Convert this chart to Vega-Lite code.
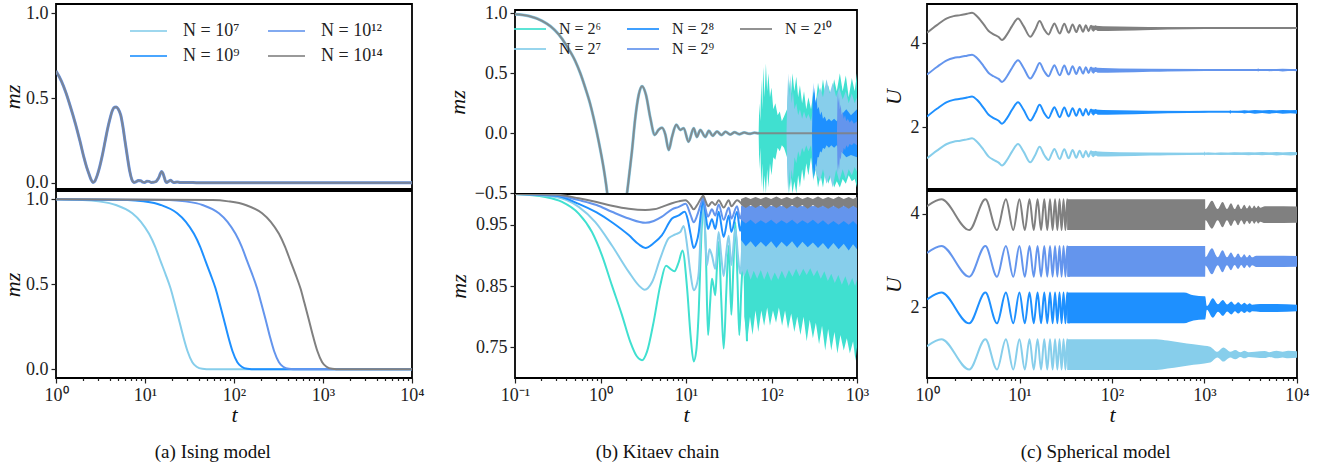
{
"$schema":"https://vega.github.io/schema/vega-lite/v6.json",
"background":"white",
"padding":{"left":0,"top":3,"right":5,"bottom":3},
"spacing":19,
"config":{
 "view":{"stroke":"black","strokeWidth":1.8},
 "axis":{"labelFont":"Liberation Serif","labelFontSize":18,"labelColor":"#222","titleFont":"Liberation Serif","titleFontSize":22,"titleFontStyle":"italic","titleFontWeight":"normal","titleColor":"#111","tickColor":"#222","tickWidth":1.2,"labelPadding":3,"grid":false,"domain":false,"labelFlush":false,"labelOverlap":false},
 "legend":{"labelFont":"Liberation Serif","labelColor":"#222"},
 "title":{"font":"Liberation Serif","fontWeight":"normal","fontSize":19,"color":"#111"}
},
"datasets":{
 "aTop":[
  {"t":1,"y":0.659,"s":"14"},{"t":1.15,"y":0.6,"s":"14"},{"t":1.29,"y":0.533,"s":"14"},{"t":1.47,"y":0.44,"s":"14"},{"t":1.66,"y":0.345,"s":"14"},{"t":1.86,"y":0.245,"s":"14"},{"t":2.06,"y":0.149,"s":"14"},{"t":2.2,"y":0.095,"s":"14"},{"t":2.35,"y":0.051,"s":"14"},{"t":2.48,"y":0.018,"s":"14"},{"t":2.6,"y":0.002,"s":"14"},{"t":2.72,"y":0.008,"s":"14"},{"t":2.91,"y":0.045,"s":"14"},{"t":3.1,"y":0.095,"s":"14"},{"t":3.31,"y":0.16,"s":"14"},{"t":3.55,"y":0.24,"s":"14"},{"t":3.77,"y":0.31,"s":"14"},{"t":4.03,"y":0.375,"s":"14"},{"t":4.29,"y":0.425,"s":"14"},{"t":4.55,"y":0.446,"s":"14"},{"t":4.76,"y":0.447,"s":"14"},{"t":5.0,"y":0.435,"s":"14"},{"t":5.33,"y":0.4,"s":"14"},{"t":5.65,"y":0.33,"s":"14"},{"t":5.96,"y":0.246,"s":"14"},{"t":6.35,"y":0.15,"s":"14"},{"t":6.73,"y":0.069,"s":"14"},{"t":7.1,"y":0.02,"s":"14"},{"t":7.52,"y":0.002,"s":"14"},{"t":7.9,"y":0.005,"s":"14"},{"t":8.4,"y":0.013,"s":"14"},{"t":8.94,"y":0.012,"s":"14"},{"t":9.4,"y":0.004,"s":"14"},{"t":9.93,"y":0.002,"s":"14"},{"t":10.5,"y":0.009,"s":"14"},{"t":11.1,"y":0.008,"s":"14"},{"t":11.7,"y":0.002,"s":"14"},{"t":12.3,"y":0.003,"s":"14"},{"t":13.2,"y":0.006,"s":"14"},{"t":13.9,"y":0.02,"s":"14"},{"t":14.4,"y":0.035,"s":"14"},{"t":14.9,"y":0.055,"s":"14"},{"t":15.4,"y":0.066,"s":"14"},{"t":15.9,"y":0.055,"s":"14"},{"t":16.5,"y":0.03,"s":"14"},{"t":17,"y":0.008,"s":"14"},{"t":17.5,"y":0.001,"s":"14"},{"t":18.4,"y":0.008,"s":"14"},{"t":19.4,"y":0.014,"s":"14"},{"t":20.3,"y":0.006,"s":"14"},{"t":21.2,"y":0.001,"s":"14"},{"t":23,"y":0.004,"s":"14"},{"t":25,"y":0.001,"s":"14"},{"t":30,"y":0.002,"s":"14"},{"t":40,"y":0,"s":"14"},{"t":100,"y":0,"s":"14"},{"t":10000,"y":0,"s":"14"}
 ],
 "aBot":[
  {"t":1,"y":1,"s":"7"},{"t":2,"y":0.996,"s":"7"},{"t":3,"y":0.988,"s":"7"},{"t":4.7,"y":0.967,"s":"7"},{"t":7.2,"y":0.918,"s":"7"},{"t":9,"y":0.868,"s":"7"},{"t":11.1,"y":0.797,"s":"7"},{"t":13,"y":0.722,"s":"7"},{"t":15,"y":0.635,"s":"7"},{"t":17,"y":0.56,"s":"7"},{"t":19.4,"y":0.475,"s":"7"},{"t":21.5,"y":0.39,"s":"7"},{"t":24,"y":0.295,"s":"7"},{"t":27,"y":0.19,"s":"7"},{"t":30,"y":0.108,"s":"7"},{"t":34,"y":0.042,"s":"7"},{"t":38,"y":0.015,"s":"7"},{"t":44,"y":0.003,"s":"7"},{"t":55,"y":0,"s":"7"},{"t":10000,"y":0,"s":"7"},
  {"t":1,"y":1,"s":"9"},{"t":6.4,"y":0.996,"s":"9"},{"t":9.6,"y":0.988,"s":"9"},{"t":15,"y":0.967,"s":"9"},{"t":23,"y":0.918,"s":"9"},{"t":28.8,"y":0.868,"s":"9"},{"t":35.5,"y":0.797,"s":"9"},{"t":41.6,"y":0.722,"s":"9"},{"t":48,"y":0.635,"s":"9"},{"t":54.4,"y":0.56,"s":"9"},{"t":62.1,"y":0.475,"s":"9"},{"t":68.8,"y":0.39,"s":"9"},{"t":76.8,"y":0.295,"s":"9"},{"t":86.4,"y":0.19,"s":"9"},{"t":96,"y":0.108,"s":"9"},{"t":109,"y":0.042,"s":"9"},{"t":122,"y":0.015,"s":"9"},{"t":141,"y":0.003,"s":"9"},{"t":176,"y":0,"s":"9"},{"t":10000,"y":0,"s":"9"},
  {"t":1,"y":1,"s":"12"},{"t":18.8,"y":0.996,"s":"12"},{"t":28.2,"y":0.988,"s":"12"},{"t":44.2,"y":0.967,"s":"12"},{"t":67.7,"y":0.918,"s":"12"},{"t":84.6,"y":0.868,"s":"12"},{"t":104,"y":0.797,"s":"12"},{"t":122,"y":0.722,"s":"12"},{"t":141,"y":0.635,"s":"12"},{"t":160,"y":0.56,"s":"12"},{"t":182,"y":0.475,"s":"12"},{"t":202,"y":0.39,"s":"12"},{"t":226,"y":0.295,"s":"12"},{"t":254,"y":0.19,"s":"12"},{"t":282,"y":0.108,"s":"12"},{"t":320,"y":0.042,"s":"12"},{"t":357,"y":0.015,"s":"12"},{"t":414,"y":0.003,"s":"12"},{"t":517,"y":0,"s":"12"},{"t":10000,"y":0,"s":"12"},
  {"t":1,"y":1,"s":"14"},{"t":57.6,"y":0.996,"s":"14"},{"t":86.4,"y":0.988,"s":"14"},{"t":135,"y":0.967,"s":"14"},{"t":207,"y":0.918,"s":"14"},{"t":259,"y":0.868,"s":"14"},{"t":320,"y":0.797,"s":"14"},{"t":374,"y":0.722,"s":"14"},{"t":432,"y":0.635,"s":"14"},{"t":490,"y":0.56,"s":"14"},{"t":559,"y":0.475,"s":"14"},{"t":619,"y":0.39,"s":"14"},{"t":691,"y":0.295,"s":"14"},{"t":778,"y":0.19,"s":"14"},{"t":864,"y":0.108,"s":"14"},{"t":979,"y":0.042,"s":"14"},{"t":1094,"y":0.015,"s":"14"},{"t":1267,"y":0.003,"s":"14"},{"t":1584,"y":0,"s":"14"},{"t":10000,"y":0,"s":"14"}
 ],
 "bTopL":[
  {"t":0.1,"y":0.99,"s":"10"},{"t":0.145,"y":0.975,"s":"10"},{"t":0.207,"y":0.935,"s":"10"},{"t":0.26,"y":0.89,"s":"10"},{"t":0.324,"y":0.823,"s":"10"},{"t":0.4,"y":0.73,"s":"10"},{"t":0.507,"y":0.6,"s":"10"},{"t":0.58,"y":0.5,"s":"10"},{"t":0.664,"y":0.377,"s":"10"},{"t":0.75,"y":0.255,"s":"10"},{"t":0.832,"y":0.126,"s":"10"},{"t":0.953,"y":-0.069,"s":"10"},{"t":1.09,"y":-0.293,"s":"10"},{"t":1.16,"y":-0.42,"s":"10"},{"t":1.25,"y":-0.6,"s":"10"},{"t":1.4,"y":-0.8,"s":"10"},{"t":1.6,"y":-0.9,"s":"10"},{"t":1.8,"y":-0.8,"s":"10"},{"t":1.95,"y":-0.6,"s":"10"},{"t":2.04,"y":-0.5,"s":"10"},{"t":2.18,"y":-0.33,"s":"10"},{"t":2.33,"y":-0.153,"s":"10"},{"t":2.55,"y":0.126,"s":"10"},{"t":2.8,"y":0.321,"s":"10"},{"t":3.06,"y":0.391,"s":"10"},{"t":3.4,"y":0.321,"s":"10"},{"t":3.83,"y":0.126,"s":"10"},{"t":4.3,"y":-0.014,"s":"10"},{"t":4.79,"y":0.03,"s":"10"},{"t":5.24,"y":0.045,"s":"10"},{"t":5.73,"y":-0.01,"s":"10"},{"t":6.28,"y":-0.139,"s":"10"},{"t":6.86,"y":-0.03,"s":"10"},{"t":7.7,"y":0.07,"s":"10"},{"t":8.58,"y":0.028,"s":"10"},{"t":9.4,"y":0.042,"s":"10"},{"t":10.7,"y":-0.07,"s":"10"},{"t":12.3,"y":0.042,"s":"10"},{"t":13.4,"y":-0.03,"s":"10"},{"t":14.7,"y":0.028,"s":"10"},{"t":16.8,"y":-0.03,"s":"10"},{"t":18.5,"y":0.02,"s":"10"},{"t":20.5,"y":-0.02,"s":"10"},{"t":23,"y":0.015,"s":"10"},{"t":26,"y":-0.015,"s":"10"},{"t":29,"y":0.012,"s":"10"},{"t":33,"y":-0.01,"s":"10"},{"t":37,"y":0.008,"s":"10"},{"t":42,"y":-0.008,"s":"10"},{"t":48,"y":0.006,"s":"10"},{"t":55,"y":-0.005,"s":"10"},{"t":63,"y":0.004,"s":"10"},{"t":70,"y":0,"s":"10"},{"t":1000,"y":0,"s":"10"}
 ],
 "bTopA":[
  {"t":70.8,"y":-0.02,"y2":0.02,"s":"6"},{"t":72,"y":-0.3,"y2":0.25,"s":"6"},{"t":74,"y":-0.12,"y2":0.1,"s":"6"},{"t":76,"y":-0.45,"y2":0.45,"s":"6"},{"t":78,"y":-0.25,"y2":0.2,"s":"6"},{"t":80,"y":-0.5,"y2":0.55,"s":"6"},{"t":83,"y":-0.35,"y2":0.3,"s":"6"},{"t":86,"y":-0.5,"y2":0.58,"s":"6"},{"t":89,"y":-0.3,"y2":0.35,"s":"6"},{"t":92,"y":-0.45,"y2":0.5,"s":"6"},{"t":96,"y":-0.25,"y2":0.3,"s":"6"},{"t":100,"y":-0.35,"y2":0.38,"s":"6"},{"t":105,"y":-0.2,"y2":0.2,"s":"6"},{"t":111,"y":-0.22,"y2":0.25,"s":"6"},{"t":118,"y":-0.12,"y2":0.15,"s":"6"},{"t":125,"y":-0.15,"y2":0.18,"s":"6"},{"t":132,"y":-0.1,"y2":0.1,"s":"6"},{"t":140,"y":-0.12,"y2":0.14,"s":"6"},{"t":152,"y":-0.2,"y2":0.2,"s":"6"},{"t":160,"y":-0.5,"y2":0.45,"s":"6"},{"t":168,"y":-0.35,"y2":0.3,"s":"6"},{"t":176,"y":-0.5,"y2":0.5,"s":"6"},{"t":185,"y":-0.4,"y2":0.35,"s":"6"},{"t":195,"y":-0.5,"y2":0.47,"s":"6"},{"t":205,"y":-0.35,"y2":0.3,"s":"6"},{"t":215,"y":-0.45,"y2":0.4,"s":"6"},{"t":228,"y":-0.3,"y2":0.25,"s":"6"},{"t":240,"y":-0.4,"y2":0.35,"s":"6"},{"t":255,"y":-0.25,"y2":0.2,"s":"6"},{"t":270,"y":-0.35,"y2":0.3,"s":"6"},{"t":290,"y":-0.2,"y2":0.2,"s":"6"},{"t":310,"y":-0.38,"y2":0.35,"s":"6"},{"t":330,"y":-0.3,"y2":0.25,"s":"6"},{"t":350,"y":-0.45,"y2":0.42,"s":"6"},{"t":375,"y":-0.35,"y2":0.3,"s":"6"},{"t":400,"y":-0.45,"y2":0.45,"s":"6"},{"t":430,"y":-0.3,"y2":0.3,"s":"6"},{"t":460,"y":-0.42,"y2":0.4,"s":"6"},{"t":500,"y":-0.35,"y2":0.3,"s":"6"},{"t":540,"y":-0.45,"y2":0.45,"s":"6"},{"t":580,"y":-0.4,"y2":0.35,"s":"6"},{"t":630,"y":-0.45,"y2":0.5,"s":"6"},{"t":680,"y":-0.38,"y2":0.35,"s":"6"},{"t":740,"y":-0.42,"y2":0.48,"s":"6"},{"t":800,"y":-0.35,"y2":0.3,"s":"6"},{"t":870,"y":-0.4,"y2":0.46,"s":"6"},{"t":940,"y":-0.38,"y2":0.35,"s":"6"},{"t":1000,"y":-0.45,"y2":0.5,"s":"6"},
  {"t":150,"y":-0.02,"y2":0.02,"s":"7"},{"t":153,"y":-0.35,"y2":0.3,"s":"7"},{"t":157,"y":-0.5,"y2":0.5,"s":"7"},{"t":161,"y":-0.3,"y2":0.3,"s":"7"},{"t":166,"y":-0.45,"y2":0.48,"s":"7"},{"t":172,"y":-0.3,"y2":0.25,"s":"7"},{"t":178,"y":-0.38,"y2":0.35,"s":"7"},{"t":186,"y":-0.2,"y2":0.2,"s":"7"},{"t":195,"y":-0.25,"y2":0.25,"s":"7"},{"t":205,"y":-0.15,"y2":0.15,"s":"7"},{"t":215,"y":-0.2,"y2":0.2,"s":"7"},{"t":228,"y":-0.12,"y2":0.12,"s":"7"},{"t":240,"y":-0.16,"y2":0.18,"s":"7"},{"t":255,"y":-0.1,"y2":0.12,"s":"7"},{"t":270,"y":-0.15,"y2":0.16,"s":"7"},{"t":290,"y":-0.1,"y2":0.1,"s":"7"},{"t":310,"y":-0.25,"y2":0.22,"s":"7"},{"t":340,"y":-0.35,"y2":0.3,"s":"7"},{"t":370,"y":-0.4,"y2":0.38,"s":"7"},{"t":400,"y":-0.3,"y2":0.3,"s":"7"},{"t":440,"y":-0.42,"y2":0.45,"s":"7"},{"t":480,"y":-0.35,"y2":0.33,"s":"7"},{"t":520,"y":-0.45,"y2":0.42,"s":"7"},{"t":570,"y":-0.3,"y2":0.3,"s":"7"},{"t":620,"y":-0.4,"y2":0.38,"s":"7"},{"t":680,"y":-0.3,"y2":0.28,"s":"7"},{"t":740,"y":-0.38,"y2":0.35,"s":"7"},{"t":800,"y":-0.3,"y2":0.25,"s":"7"},{"t":870,"y":-0.35,"y2":0.33,"s":"7"},{"t":940,"y":-0.28,"y2":0.25,"s":"7"},{"t":1000,"y":-0.32,"y2":0.3,"s":"7"},
  {"t":298,"y":-0.02,"y2":0.02,"s":"8"},{"t":302,"y":-0.3,"y2":0.25,"s":"8"},{"t":307,"y":-0.4,"y2":0.42,"s":"8"},{"t":312,"y":-0.28,"y2":0.3,"s":"8"},{"t":318,"y":-0.36,"y2":0.38,"s":"8"},{"t":326,"y":-0.25,"y2":0.25,"s":"8"},{"t":335,"y":-0.28,"y2":0.3,"s":"8"},{"t":345,"y":-0.2,"y2":0.2,"s":"8"},{"t":357,"y":-0.2,"y2":0.22,"s":"8"},{"t":370,"y":-0.15,"y2":0.15,"s":"8"},{"t":385,"y":-0.16,"y2":0.18,"s":"8"},{"t":400,"y":-0.12,"y2":0.12,"s":"8"},{"t":420,"y":-0.13,"y2":0.14,"s":"8"},{"t":440,"y":-0.1,"y2":0.1,"s":"8"},{"t":470,"y":-0.12,"y2":0.12,"s":"8"},{"t":500,"y":-0.1,"y2":0.1,"s":"8"},{"t":540,"y":-0.12,"y2":0.12,"s":"8"},{"t":580,"y":-0.1,"y2":0.1,"s":"8"},{"t":650,"y":-0.15,"y2":0.15,"s":"8"},{"t":750,"y":-0.2,"y2":0.2,"s":"8"},{"t":850,"y":-0.18,"y2":0.15,"s":"8"},{"t":1000,"y":-0.2,"y2":0.2,"s":"8"},
  {"t":583,"y":-0.02,"y2":0.02,"s":"9"},{"t":590,"y":-0.25,"y2":0.25,"s":"9"},{"t":598,"y":-0.33,"y2":0.36,"s":"9"},{"t":607,"y":-0.25,"y2":0.25,"s":"9"},{"t":617,"y":-0.3,"y2":0.3,"s":"9"},{"t":630,"y":-0.2,"y2":0.2,"s":"9"},{"t":645,"y":-0.22,"y2":0.24,"s":"9"},{"t":662,"y":-0.15,"y2":0.15,"s":"9"},{"t":680,"y":-0.17,"y2":0.18,"s":"9"},{"t":700,"y":-0.12,"y2":0.12,"s":"9"},{"t":725,"y":-0.14,"y2":0.15,"s":"9"},{"t":750,"y":-0.1,"y2":0.1,"s":"9"},{"t":780,"y":-0.12,"y2":0.12,"s":"9"},{"t":820,"y":-0.09,"y2":0.09,"s":"9"},{"t":870,"y":-0.1,"y2":0.11,"s":"9"},{"t":920,"y":-0.08,"y2":0.08,"s":"9"},{"t":1000,"y":-0.1,"y2":0.1,"s":"9"}
 ],
 "bBotL":[
  {"t":0.1,"y":1,"s":"6"},{"t":0.226,"y":0.995,"s":"6"},{"t":0.355,"y":0.987,"s":"6"},{"t":0.556,"y":0.968,"s":"6"},{"t":0.795,"y":0.938,"s":"6"},{"t":1.04,"y":0.9,"s":"6"},{"t":1.36,"y":0.851,"s":"6"},{"t":1.78,"y":0.803,"s":"6"},{"t":2.23,"y":0.759,"s":"6"},{"t":2.67,"y":0.735,"s":"6"},{"t":3.06,"y":0.729,"s":"6"},{"t":3.5,"y":0.743,"s":"6"},{"t":4.19,"y":0.792,"s":"6"},{"t":5.0,"y":0.851,"s":"6"},{"t":5.84,"y":0.883,"s":"6"},{"t":6.56,"y":0.878,"s":"6"},{"t":7.31,"y":0.874,"s":"6"},{"t":8.22,"y":0.889,"s":"6"},{"t":9.1,"y":0.908,"s":"6"},{"t":10.3,"y":0.846,"s":"6"},{"t":11.3,"y":0.77,"s":"6"},{"t":12.3,"y":0.727,"s":"6"},{"t":13.2,"y":0.745,"s":"6"},{"t":14.1,"y":0.81,"s":"6"},{"t":15.1,"y":0.93,"s":"6"},{"t":16.1,"y":0.987,"s":"6"},{"t":17.1,"y":0.9,"s":"6"},{"t":18.1,"y":0.77,"s":"6"},{"t":19.1,"y":0.82,"s":"6"},{"t":20.1,"y":0.862,"s":"6"},{"t":21,"y":0.85,"s":"6"},{"t":22,"y":0.835,"s":"6"},{"t":23,"y":0.88,"s":"6"},{"t":24.1,"y":0.922,"s":"6"},{"t":25.8,"y":0.83,"s":"6"},{"t":27.6,"y":0.748,"s":"6"},{"t":29.6,"y":0.84,"s":"6"},{"t":31.6,"y":0.916,"s":"6"},{"t":33.9,"y":0.803,"s":"6"},{"t":35.8,"y":0.88,"s":"6"},{"t":37.8,"y":0.954,"s":"6"},{"t":40,"y":0.86,"s":"6"},{"t":42,"y":0.77,"s":"6"},{"t":44.5,"y":0.85,"s":"6"},{"t":47.3,"y":0.9,"s":"6"},{"t":49.5,"y":0.82,"s":"6"},{"t":51.7,"y":0.76,"s":"6"},
  {"t":0.1,"y":1,"s":"7"},{"t":0.3,"y":0.995,"s":"7"},{"t":0.556,"y":0.979,"s":"7"},{"t":0.87,"y":0.954,"s":"7"},{"t":1.36,"y":0.916,"s":"7"},{"t":2.14,"y":0.873,"s":"7"},{"t":2.8,"y":0.851,"s":"7"},{"t":3.29,"y":0.844,"s":"7"},{"t":4.0,"y":0.856,"s":"7"},{"t":5.0,"y":0.895,"s":"7"},{"t":6.28,"y":0.928,"s":"7"},{"t":7.5,"y":0.934,"s":"7"},{"t":8.58,"y":0.938,"s":"7"},{"t":9.4,"y":0.948,"s":"7"},{"t":10.3,"y":0.916,"s":"7"},{"t":11.3,"y":0.87,"s":"7"},{"t":12.3,"y":0.843,"s":"7"},{"t":13.2,"y":0.85,"s":"7"},{"t":14.1,"y":0.873,"s":"7"},{"t":15,"y":0.95,"s":"7"},{"t":15.8,"y":0.987,"s":"7"},{"t":16.7,"y":0.94,"s":"7"},{"t":17.6,"y":0.884,"s":"7"},{"t":18.8,"y":0.91,"s":"7"},{"t":20.1,"y":0.9,"s":"7"},{"t":22,"y":0.878,"s":"7"},{"t":24.1,"y":0.938,"s":"7"},{"t":25.8,"y":0.9,"s":"7"},{"t":27.6,"y":0.866,"s":"7"},{"t":29.6,"y":0.905,"s":"7"},{"t":31.6,"y":0.932,"s":"7"},{"t":33.9,"y":0.884,"s":"7"},{"t":37.8,"y":0.943,"s":"7"},{"t":40.5,"y":0.9,"s":"7"},{"t":43,"y":0.87,"s":"7"},{"t":46,"y":0.93,"s":"7"},
  {"t":0.1,"y":1,"s":"8"},{"t":0.3,"y":0.997,"s":"8"},{"t":0.556,"y":0.984,"s":"8"},{"t":0.9,"y":0.97,"s":"8"},{"t":1.36,"y":0.954,"s":"8"},{"t":2.14,"y":0.933,"s":"8"},{"t":2.8,"y":0.918,"s":"8"},{"t":3.35,"y":0.912,"s":"8"},{"t":4.2,"y":0.92,"s":"8"},{"t":5.24,"y":0.933,"s":"8"},{"t":6.86,"y":0.96,"s":"8"},{"t":8.22,"y":0.965,"s":"8"},{"t":9.66,"y":0.971,"s":"8"},{"t":10.5,"y":0.958,"s":"8"},{"t":11.3,"y":0.935,"s":"8"},{"t":12.3,"y":0.912,"s":"8"},{"t":13.2,"y":0.92,"s":"8"},{"t":14.1,"y":0.938,"s":"8"},{"t":15,"y":0.97,"s":"8"},{"t":15.9,"y":0.989,"s":"8"},{"t":17,"y":0.965,"s":"8"},{"t":18.1,"y":0.943,"s":"8"},{"t":20.1,"y":0.959,"s":"8"},{"t":22,"y":0.943,"s":"8"},{"t":24.1,"y":0.971,"s":"8"},{"t":27.6,"y":0.93,"s":"8"},{"t":31.6,"y":0.965,"s":"8"},{"t":33.9,"y":0.938,"s":"8"},{"t":39.5,"y":0.971,"s":"8"},{"t":43,"y":0.94,"s":"8"},{"t":46,"y":0.965,"s":"8"},
  {"t":0.1,"y":1,"s":"9"},{"t":0.3,"y":0.998,"s":"9"},{"t":0.556,"y":0.99,"s":"9"},{"t":0.9,"y":0.982,"s":"9"},{"t":1.36,"y":0.971,"s":"9"},{"t":2.14,"y":0.96,"s":"9"},{"t":3.35,"y":0.953,"s":"9"},{"t":4.2,"y":0.956,"s":"9"},{"t":5.24,"y":0.963,"s":"9"},{"t":6.86,"y":0.975,"s":"9"},{"t":8.22,"y":0.979,"s":"9"},{"t":9.9,"y":0.984,"s":"9"},{"t":11.3,"y":0.966,"s":"9"},{"t":12.3,"y":0.954,"s":"9"},{"t":13.5,"y":0.965,"s":"9"},{"t":15,"y":0.985,"s":"9"},{"t":15.9,"y":0.995,"s":"9"},{"t":17,"y":0.975,"s":"9"},{"t":18.1,"y":0.963,"s":"9"},{"t":20.1,"y":0.975,"s":"9"},{"t":22,"y":0.965,"s":"9"},{"t":24.1,"y":0.983,"s":"9"},{"t":27.6,"y":0.958,"s":"9"},{"t":31.6,"y":0.978,"s":"9"},{"t":33.9,"y":0.96,"s":"9"},{"t":39.5,"y":0.98,"s":"9"},{"t":43,"y":0.96,"s":"9"},{"t":46,"y":0.978,"s":"9"},
  {"t":0.1,"y":1,"s":"10"},{"t":0.3,"y":0.999,"s":"10"},{"t":0.556,"y":0.993,"s":"10"},{"t":0.9,"y":0.987,"s":"10"},{"t":1.36,"y":0.981,"s":"10"},{"t":2.14,"y":0.976,"s":"10"},{"t":3.35,"y":0.974,"s":"10"},{"t":4.2,"y":0.975,"s":"10"},{"t":5.24,"y":0.979,"s":"10"},{"t":6.86,"y":0.985,"s":"10"},{"t":8.22,"y":0.988,"s":"10"},{"t":9.9,"y":0.99,"s":"10"},{"t":11.3,"y":0.982,"s":"10"},{"t":12.3,"y":0.975,"s":"10"},{"t":13.5,"y":0.982,"s":"10"},{"t":15,"y":0.993,"s":"10"},{"t":15.9,"y":0.997,"s":"10"},{"t":17,"y":0.988,"s":"10"},{"t":18.1,"y":0.98,"s":"10"},{"t":20.1,"y":0.987,"s":"10"},{"t":22,"y":0.982,"s":"10"},{"t":24.1,"y":0.99,"s":"10"},{"t":27.6,"y":0.978,"s":"10"},{"t":31.6,"y":0.99,"s":"10"},{"t":33.9,"y":0.98,"s":"10"},{"t":39.5,"y":0.99,"s":"10"},{"t":46,"y":0.982,"s":"10"}
 ],
 "bBotA":[
  {"t":48,"y":0.8,"y2":0.89,"s":"6"},{"t":52,"y":0.76,"y2":0.895,"s":"6"},{"t":56,"y":0.8,"y2":0.885,"s":"6"},{"t":60,"y":0.77,"y2":0.895,"s":"6"},{"t":65,"y":0.81,"y2":0.885,"s":"6"},{"t":70,"y":0.775,"y2":0.895,"s":"6"},{"t":76,"y":0.81,"y2":0.885,"s":"6"},{"t":82,"y":0.785,"y2":0.895,"s":"6"},{"t":89,"y":0.815,"y2":0.885,"s":"6"},{"t":96,"y":0.785,"y2":0.895,"s":"6"},{"t":104,"y":0.81,"y2":0.885,"s":"6"},{"t":113,"y":0.79,"y2":0.895,"s":"6"},{"t":122,"y":0.815,"y2":0.885,"s":"6"},{"t":133,"y":0.785,"y2":0.895,"s":"6"},{"t":144,"y":0.81,"y2":0.885,"s":"6"},{"t":156,"y":0.78,"y2":0.895,"s":"6"},{"t":170,"y":0.805,"y2":0.885,"s":"6"},{"t":185,"y":0.775,"y2":0.895,"s":"6"},{"t":200,"y":0.8,"y2":0.885,"s":"6"},{"t":218,"y":0.77,"y2":0.895,"s":"6"},{"t":237,"y":0.8,"y2":0.885,"s":"6"},{"t":258,"y":0.76,"y2":0.895,"s":"6"},{"t":280,"y":0.795,"y2":0.885,"s":"6"},{"t":305,"y":0.765,"y2":0.895,"s":"6"},{"t":330,"y":0.79,"y2":0.885,"s":"6"},{"t":360,"y":0.755,"y2":0.895,"s":"6"},{"t":390,"y":0.785,"y2":0.885,"s":"6"},{"t":425,"y":0.745,"y2":0.895,"s":"6"},{"t":460,"y":0.78,"y2":0.885,"s":"6"},{"t":500,"y":0.745,"y2":0.895,"s":"6"},{"t":545,"y":0.775,"y2":0.885,"s":"6"},{"t":590,"y":0.74,"y2":0.895,"s":"6"},{"t":640,"y":0.77,"y2":0.885,"s":"6"},{"t":700,"y":0.745,"y2":0.895,"s":"6"},{"t":760,"y":0.765,"y2":0.885,"s":"6"},{"t":825,"y":0.74,"y2":0.895,"s":"6"},{"t":900,"y":0.76,"y2":0.885,"s":"6"},{"t":960,"y":0.728,"y2":0.895,"s":"6"},{"t":1000,"y":0.75,"y2":0.885,"s":"6"},
  {"t":44,"y":0.88,"y2":0.935,"s":"7"},{"t":48,"y":0.865,"y2":0.94,"s":"7"},{"t":52,"y":0.878,"y2":0.935,"s":"7"},{"t":57,"y":0.86,"y2":0.94,"s":"7"},{"t":62,"y":0.875,"y2":0.935,"s":"7"},{"t":68,"y":0.862,"y2":0.94,"s":"7"},{"t":75,"y":0.876,"y2":0.935,"s":"7"},{"t":82,"y":0.86,"y2":0.94,"s":"7"},{"t":90,"y":0.874,"y2":0.935,"s":"7"},{"t":99,"y":0.858,"y2":0.94,"s":"7"},{"t":109,"y":0.872,"y2":0.935,"s":"7"},{"t":120,"y":0.86,"y2":0.94,"s":"7"},{"t":132,"y":0.875,"y2":0.935,"s":"7"},{"t":145,"y":0.862,"y2":0.94,"s":"7"},{"t":160,"y":0.876,"y2":0.935,"s":"7"},{"t":176,"y":0.865,"y2":0.94,"s":"7"},{"t":194,"y":0.878,"y2":0.935,"s":"7"},{"t":213,"y":0.866,"y2":0.94,"s":"7"},{"t":235,"y":0.878,"y2":0.935,"s":"7"},{"t":258,"y":0.868,"y2":0.94,"s":"7"},{"t":284,"y":0.879,"y2":0.935,"s":"7"},{"t":312,"y":0.866,"y2":0.94,"s":"7"},{"t":343,"y":0.876,"y2":0.935,"s":"7"},{"t":377,"y":0.862,"y2":0.94,"s":"7"},{"t":415,"y":0.874,"y2":0.935,"s":"7"},{"t":456,"y":0.858,"y2":0.94,"s":"7"},{"t":500,"y":0.87,"y2":0.935,"s":"7"},{"t":550,"y":0.855,"y2":0.94,"s":"7"},{"t":605,"y":0.868,"y2":0.935,"s":"7"},{"t":665,"y":0.852,"y2":0.94,"s":"7"},{"t":730,"y":0.866,"y2":0.935,"s":"7"},{"t":800,"y":0.85,"y2":0.94,"s":"7"},{"t":880,"y":0.863,"y2":0.935,"s":"7"},{"t":950,"y":0.85,"y2":0.94,"s":"7"},{"t":1000,"y":0.86,"y2":0.935,"s":"7"},
  {"t":44,"y":0.925,"y2":0.963,"s":"8"},{"t":50,"y":0.915,"y2":0.967,"s":"8"},{"t":57,"y":0.923,"y2":0.962,"s":"8"},{"t":65,"y":0.913,"y2":0.966,"s":"8"},{"t":75,"y":0.922,"y2":0.962,"s":"8"},{"t":86,"y":0.914,"y2":0.966,"s":"8"},{"t":99,"y":0.923,"y2":0.962,"s":"8"},{"t":114,"y":0.912,"y2":0.967,"s":"8"},{"t":131,"y":0.922,"y2":0.962,"s":"8"},{"t":151,"y":0.914,"y2":0.966,"s":"8"},{"t":174,"y":0.923,"y2":0.962,"s":"8"},{"t":200,"y":0.912,"y2":0.967,"s":"8"},{"t":230,"y":0.922,"y2":0.962,"s":"8"},{"t":265,"y":0.913,"y2":0.966,"s":"8"},{"t":305,"y":0.921,"y2":0.962,"s":"8"},{"t":350,"y":0.912,"y2":0.967,"s":"8"},{"t":400,"y":0.92,"y2":0.962,"s":"8"},{"t":460,"y":0.91,"y2":0.966,"s":"8"},{"t":530,"y":0.92,"y2":0.962,"s":"8"},{"t":610,"y":0.91,"y2":0.967,"s":"8"},{"t":700,"y":0.919,"y2":0.962,"s":"8"},{"t":800,"y":0.908,"y2":0.966,"s":"8"},{"t":900,"y":0.918,"y2":0.962,"s":"8"},{"t":1000,"y":0.91,"y2":0.966,"s":"8"},
  {"t":44,"y":0.958,"y2":0.98,"s":"9"},{"t":50,"y":0.952,"y2":0.984,"s":"9"},{"t":57,"y":0.958,"y2":0.98,"s":"9"},{"t":65,"y":0.951,"y2":0.983,"s":"9"},{"t":75,"y":0.957,"y2":0.98,"s":"9"},{"t":86,"y":0.952,"y2":0.984,"s":"9"},{"t":99,"y":0.958,"y2":0.98,"s":"9"},{"t":114,"y":0.951,"y2":0.983,"s":"9"},{"t":131,"y":0.957,"y2":0.98,"s":"9"},{"t":151,"y":0.952,"y2":0.984,"s":"9"},{"t":174,"y":0.958,"y2":0.98,"s":"9"},{"t":200,"y":0.951,"y2":0.983,"s":"9"},{"t":230,"y":0.957,"y2":0.98,"s":"9"},{"t":265,"y":0.952,"y2":0.984,"s":"9"},{"t":305,"y":0.958,"y2":0.98,"s":"9"},{"t":350,"y":0.951,"y2":0.983,"s":"9"},{"t":400,"y":0.957,"y2":0.98,"s":"9"},{"t":460,"y":0.95,"y2":0.984,"s":"9"},{"t":530,"y":0.956,"y2":0.98,"s":"9"},{"t":610,"y":0.95,"y2":0.983,"s":"9"},{"t":700,"y":0.956,"y2":0.98,"s":"9"},{"t":800,"y":0.95,"y2":0.984,"s":"9"},{"t":900,"y":0.956,"y2":0.98,"s":"9"},{"t":1000,"y":0.95,"y2":0.983,"s":"9"},
  {"t":44,"y":0.982,"y2":0.992,"s":"10"},{"t":50,"y":0.977,"y2":0.995,"s":"10"},{"t":57,"y":0.982,"y2":0.992,"s":"10"},{"t":65,"y":0.977,"y2":0.995,"s":"10"},{"t":75,"y":0.982,"y2":0.992,"s":"10"},{"t":86,"y":0.976,"y2":0.995,"s":"10"},{"t":99,"y":0.982,"y2":0.992,"s":"10"},{"t":114,"y":0.977,"y2":0.996,"s":"10"},{"t":131,"y":0.982,"y2":0.992,"s":"10"},{"t":151,"y":0.976,"y2":0.995,"s":"10"},{"t":174,"y":0.982,"y2":0.992,"s":"10"},{"t":200,"y":0.977,"y2":0.996,"s":"10"},{"t":230,"y":0.982,"y2":0.992,"s":"10"},{"t":265,"y":0.976,"y2":0.995,"s":"10"},{"t":305,"y":0.982,"y2":0.992,"s":"10"},{"t":350,"y":0.977,"y2":0.996,"s":"10"},{"t":400,"y":0.981,"y2":0.992,"s":"10"},{"t":460,"y":0.976,"y2":0.995,"s":"10"},{"t":530,"y":0.981,"y2":0.992,"s":"10"},{"t":610,"y":0.976,"y2":0.996,"s":"10"},{"t":700,"y":0.981,"y2":0.992,"s":"10"},{"t":800,"y":0.976,"y2":0.995,"s":"10"},{"t":900,"y":0.981,"y2":0.992,"s":"10"},{"t":1000,"y":0.977,"y2":0.995,"s":"10"}
 ],
 "cTopL":[
  {"t":1,"y":1.253,"s":"s"},{"t":1.28,"y":1.436,"s":"s"},{"t":1.64,"y":1.595,"s":"s"},{"t":1.94,"y":1.65,"s":"s"},{"t":2.29,"y":1.674,"s":"s"},{"t":2.71,"y":1.706,"s":"s"},{"t":3.07,"y":1.73,"s":"s"},{"t":3.47,"y":1.65,"s":"s"},{"t":4.1,"y":1.452,"s":"s"},{"t":4.64,"y":1.293,"s":"s"},{"t":5.25,"y":1.214,"s":"s"},{"t":5.95,"y":1.15,"s":"s"},{"t":6.47,"y":1.079,"s":"s"},{"t":7.33,"y":1.214,"s":"s"},{"t":8.3,"y":1.412,"s":"s"},{"t":9.63,"y":1.595,"s":"s"},{"t":11.07,"y":1.412,"s":"s"},{"t":13.08,"y":1.158,"s":"s"},{"t":14.8,"y":1.333,"s":"s"},{"t":16.5,"y":1.531,"s":"s"},{"t":18.5,"y":1.333,"s":"s"},{"t":20.6,"y":1.214,"s":"s"},{"t":22.4,"y":1.373,"s":"s"},{"t":23.8,"y":1.476,"s":"s"},{"t":27.2,"y":1.237,"s":"s"},{"t":30.5,"y":1.468,"s":"s"},{"t":34,"y":1.253,"s":"s"},{"t":37.5,"y":1.452,"s":"s"},{"t":41.1,"y":1.269,"s":"s"},{"t":44.7,"y":1.436,"s":"s"},{"t":48.6,"y":1.277,"s":"s"},{"t":52.2,"y":1.43,"s":"s"},{"t":55.8,"y":1.29,"s":"s"},{"t":59.4,"y":1.42,"s":"s"},{"t":63,"y":1.3,"s":"s"},{"t":66.6,"y":1.41,"s":"s"},{"t":70,"y":1.32,"s":"s"},{"t":1000,"y":1.365,"s":"s"},{"t":10000,"y":1.365,"s":"s"},
  {"t":1,"y":2.253,"s":"d"},{"t":1.28,"y":2.436,"s":"d"},{"t":1.64,"y":2.595,"s":"d"},{"t":1.94,"y":2.65,"s":"d"},{"t":2.29,"y":2.674,"s":"d"},{"t":2.71,"y":2.706,"s":"d"},{"t":3.07,"y":2.73,"s":"d"},{"t":3.47,"y":2.65,"s":"d"},{"t":4.1,"y":2.452,"s":"d"},{"t":4.64,"y":2.293,"s":"d"},{"t":5.25,"y":2.214,"s":"d"},{"t":5.95,"y":2.15,"s":"d"},{"t":6.47,"y":2.079,"s":"d"},{"t":7.33,"y":2.214,"s":"d"},{"t":8.3,"y":2.412,"s":"d"},{"t":9.63,"y":2.595,"s":"d"},{"t":11.07,"y":2.412,"s":"d"},{"t":13.08,"y":2.158,"s":"d"},{"t":14.8,"y":2.333,"s":"d"},{"t":16.5,"y":2.531,"s":"d"},{"t":18.5,"y":2.333,"s":"d"},{"t":20.6,"y":2.214,"s":"d"},{"t":22.4,"y":2.373,"s":"d"},{"t":23.8,"y":2.476,"s":"d"},{"t":27.2,"y":2.237,"s":"d"},{"t":30.5,"y":2.468,"s":"d"},{"t":34,"y":2.253,"s":"d"},{"t":37.5,"y":2.452,"s":"d"},{"t":41.1,"y":2.269,"s":"d"},{"t":44.7,"y":2.436,"s":"d"},{"t":48.6,"y":2.277,"s":"d"},{"t":52.2,"y":2.43,"s":"d"},{"t":55.8,"y":2.29,"s":"d"},{"t":59.4,"y":2.42,"s":"d"},{"t":63,"y":2.3,"s":"d"},{"t":66.6,"y":2.41,"s":"d"},{"t":70,"y":2.32,"s":"d"},{"t":1000,"y":2.365,"s":"d"},{"t":10000,"y":2.365,"s":"d"},
  {"t":1,"y":3.253,"s":"c"},{"t":1.28,"y":3.436,"s":"c"},{"t":1.64,"y":3.595,"s":"c"},{"t":1.94,"y":3.65,"s":"c"},{"t":2.29,"y":3.674,"s":"c"},{"t":2.71,"y":3.706,"s":"c"},{"t":3.07,"y":3.73,"s":"c"},{"t":3.47,"y":3.65,"s":"c"},{"t":4.1,"y":3.452,"s":"c"},{"t":4.64,"y":3.293,"s":"c"},{"t":5.25,"y":3.214,"s":"c"},{"t":5.95,"y":3.15,"s":"c"},{"t":6.47,"y":3.079,"s":"c"},{"t":7.33,"y":3.214,"s":"c"},{"t":8.3,"y":3.412,"s":"c"},{"t":9.63,"y":3.595,"s":"c"},{"t":11.07,"y":3.412,"s":"c"},{"t":13.08,"y":3.158,"s":"c"},{"t":14.8,"y":3.333,"s":"c"},{"t":16.5,"y":3.531,"s":"c"},{"t":18.5,"y":3.333,"s":"c"},{"t":20.6,"y":3.214,"s":"c"},{"t":22.4,"y":3.373,"s":"c"},{"t":23.8,"y":3.476,"s":"c"},{"t":27.2,"y":3.237,"s":"c"},{"t":30.5,"y":3.468,"s":"c"},{"t":34,"y":3.253,"s":"c"},{"t":37.5,"y":3.452,"s":"c"},{"t":41.1,"y":3.269,"s":"c"},{"t":44.7,"y":3.436,"s":"c"},{"t":48.6,"y":3.277,"s":"c"},{"t":52.2,"y":3.43,"s":"c"},{"t":55.8,"y":3.29,"s":"c"},{"t":59.4,"y":3.42,"s":"c"},{"t":63,"y":3.3,"s":"c"},{"t":66.6,"y":3.41,"s":"c"},{"t":70,"y":3.32,"s":"c"},{"t":1000,"y":3.365,"s":"c"},{"t":10000,"y":3.365,"s":"c"},
  {"t":1,"y":4.253,"s":"g"},{"t":1.28,"y":4.436,"s":"g"},{"t":1.64,"y":4.595,"s":"g"},{"t":1.94,"y":4.65,"s":"g"},{"t":2.29,"y":4.674,"s":"g"},{"t":2.71,"y":4.706,"s":"g"},{"t":3.07,"y":4.73,"s":"g"},{"t":3.47,"y":4.65,"s":"g"},{"t":4.1,"y":4.452,"s":"g"},{"t":4.64,"y":4.293,"s":"g"},{"t":5.25,"y":4.214,"s":"g"},{"t":5.95,"y":4.15,"s":"g"},{"t":6.47,"y":4.079,"s":"g"},{"t":7.33,"y":4.214,"s":"g"},{"t":8.3,"y":4.412,"s":"g"},{"t":9.63,"y":4.595,"s":"g"},{"t":11.07,"y":4.412,"s":"g"},{"t":13.08,"y":4.158,"s":"g"},{"t":14.8,"y":4.333,"s":"g"},{"t":16.5,"y":4.531,"s":"g"},{"t":18.5,"y":4.333,"s":"g"},{"t":20.6,"y":4.214,"s":"g"},{"t":22.4,"y":4.373,"s":"g"},{"t":23.8,"y":4.476,"s":"g"},{"t":27.2,"y":4.237,"s":"g"},{"t":30.5,"y":4.468,"s":"g"},{"t":34,"y":4.253,"s":"g"},{"t":37.5,"y":4.452,"s":"g"},{"t":41.1,"y":4.269,"s":"g"},{"t":44.7,"y":4.436,"s":"g"},{"t":48.6,"y":4.277,"s":"g"},{"t":52.2,"y":4.43,"s":"g"},{"t":55.8,"y":4.29,"s":"g"},{"t":59.4,"y":4.42,"s":"g"},{"t":63,"y":4.3,"s":"g"},{"t":66.6,"y":4.41,"s":"g"},{"t":70,"y":4.32,"s":"g"},{"t":1000,"y":4.365,"s":"g"},{"t":10000,"y":4.365,"s":"g"}
 ],
 "cTopA":[
  {"t":60,"y":1.31,"y2":1.425,"s":"s"},{"t":80,"y":1.325,"y2":1.41,"s":"s"},{"t":120,"y":1.335,"y2":1.4,"s":"s"},{"t":250,"y":1.34,"y2":1.392,"s":"s"},{"t":990,"y":1.347,"y2":1.385,"s":"s"},{"t":1000,"y":1.3,"y2":1.42,"s":"s"},{"t":1015,"y":1.35,"y2":1.385,"s":"s"},{"t":1100,"y":1.34,"y2":1.39,"s":"s"},{"t":1300,"y":1.35,"y2":1.38,"s":"s"},{"t":1500,"y":1.335,"y2":1.395,"s":"s"},{"t":1800,"y":1.345,"y2":1.385,"s":"s"},{"t":2100,"y":1.33,"y2":1.4,"s":"s"},{"t":2500,"y":1.34,"y2":1.39,"s":"s"},{"t":3000,"y":1.325,"y2":1.4,"s":"s"},{"t":3500,"y":1.34,"y2":1.39,"s":"s"},{"t":4200,"y":1.325,"y2":1.405,"s":"s"},{"t":5000,"y":1.34,"y2":1.39,"s":"s"},{"t":6000,"y":1.32,"y2":1.405,"s":"s"},{"t":7000,"y":1.335,"y2":1.395,"s":"s"},{"t":8500,"y":1.32,"y2":1.405,"s":"s"},{"t":10000,"y":1.33,"y2":1.4,"s":"s"},
  {"t":60,"y":2.31,"y2":2.425,"s":"d"},{"t":80,"y":2.325,"y2":2.41,"s":"d"},{"t":120,"y":2.335,"y2":2.4,"s":"d"},{"t":250,"y":2.34,"y2":2.392,"s":"d"},{"t":1000,"y":2.347,"y2":2.385,"s":"d"},{"t":1100,"y":2.357,"y2":2.373,"s":"d"},{"t":1850,"y":2.357,"y2":2.373,"s":"d"},{"t":1900,"y":2.31,"y2":2.41,"s":"d"},{"t":1950,"y":2.357,"y2":2.373,"s":"d"},{"t":2500,"y":2.34,"y2":2.39,"s":"d"},{"t":2700,"y":2.325,"y2":2.4,"s":"d"},{"t":3000,"y":2.34,"y2":2.39,"s":"d"},{"t":3500,"y":2.32,"y2":2.405,"s":"d"},{"t":4200,"y":2.335,"y2":2.395,"s":"d"},{"t":5000,"y":2.32,"y2":2.41,"s":"d"},{"t":6000,"y":2.335,"y2":2.395,"s":"d"},{"t":7000,"y":2.32,"y2":2.405,"s":"d"},{"t":8500,"y":2.33,"y2":2.4,"s":"d"},{"t":10000,"y":2.32,"y2":2.405,"s":"d"},
  {"t":60,"y":3.31,"y2":3.425,"s":"c"},{"t":80,"y":3.325,"y2":3.41,"s":"c"},{"t":120,"y":3.335,"y2":3.4,"s":"c"},{"t":250,"y":3.34,"y2":3.392,"s":"c"},{"t":1000,"y":3.347,"y2":3.385,"s":"c"},{"t":1100,"y":3.357,"y2":3.373,"s":"c"},{"t":3700,"y":3.357,"y2":3.373,"s":"c"},{"t":3800,"y":3.32,"y2":3.405,"s":"c"},{"t":3900,"y":3.357,"y2":3.373,"s":"c"},{"t":4600,"y":3.35,"y2":3.38,"s":"c"},{"t":5000,"y":3.335,"y2":3.39,"s":"c"},{"t":6000,"y":3.345,"y2":3.385,"s":"c"},{"t":7000,"y":3.33,"y2":3.395,"s":"c"},{"t":8500,"y":3.345,"y2":3.385,"s":"c"},{"t":10000,"y":3.335,"y2":3.39,"s":"c"},
  {"t":60,"y":4.31,"y2":4.425,"s":"g"},{"t":80,"y":4.325,"y2":4.41,"s":"g"},{"t":120,"y":4.335,"y2":4.4,"s":"g"},{"t":250,"y":4.34,"y2":4.392,"s":"g"},{"t":1000,"y":4.347,"y2":4.385,"s":"g"},{"t":1100,"y":4.357,"y2":4.373,"s":"g"},{"t":8300,"y":4.357,"y2":4.373,"s":"g"},{"t":8600,"y":4.335,"y2":4.39,"s":"g"},{"t":9000,"y":4.357,"y2":4.373,"s":"g"},{"t":10000,"y":4.357,"y2":4.373,"s":"g"}
 ],
 "cBotL":[
  {"t":1,"y":1.16,"s":"s"},{"t":1.43,"y":1.31,"s":"s"},{"t":2.86,"y":0.66,"s":"s"},{"t":4.28,"y":1.31,"s":"s"},{"t":5.71,"y":0.66,"s":"s"},{"t":7.13,"y":1.31,"s":"s"},{"t":8.56,"y":0.66,"s":"s"},{"t":9.98,"y":1.31,"s":"s"},{"t":11.41,"y":0.66,"s":"s"},{"t":12.83,"y":1.31,"s":"s"},{"t":14.26,"y":0.66,"s":"s"},{"t":15.68,"y":1.31,"s":"s"},{"t":17.11,"y":0.66,"s":"s"},{"t":18.53,"y":1.31,"s":"s"},{"t":19.96,"y":0.66,"s":"s"},{"t":21.38,"y":1.31,"s":"s"},{"t":22.81,"y":0.66,"s":"s"},{"t":24.23,"y":1.31,"s":"s"},{"t":25.66,"y":0.66,"s":"s"},{"t":27.08,"y":1.31,"s":"s"},{"t":28.51,"y":0.66,"s":"s"},{"t":29.93,"y":1.31,"s":"s"},{"t":31.36,"y":0.66,"s":"s"},{"t":32.78,"y":1.31,"s":"s"},{"t":34.21,"y":0.66,"s":"s"},
  {"t":1,"y":2.16,"s":"d"},{"t":1.43,"y":2.31,"s":"d"},{"t":2.86,"y":1.65,"s":"d"},{"t":4.28,"y":2.31,"s":"d"},{"t":5.71,"y":1.65,"s":"d"},{"t":7.13,"y":2.31,"s":"d"},{"t":8.56,"y":1.65,"s":"d"},{"t":9.98,"y":2.31,"s":"d"},{"t":11.41,"y":1.65,"s":"d"},{"t":12.83,"y":2.31,"s":"d"},{"t":14.26,"y":1.65,"s":"d"},{"t":15.68,"y":2.31,"s":"d"},{"t":17.11,"y":1.65,"s":"d"},{"t":18.53,"y":2.31,"s":"d"},{"t":19.96,"y":1.65,"s":"d"},{"t":21.38,"y":2.31,"s":"d"},{"t":22.81,"y":1.65,"s":"d"},{"t":24.23,"y":2.31,"s":"d"},{"t":25.66,"y":1.65,"s":"d"},{"t":27.08,"y":2.31,"s":"d"},{"t":28.51,"y":1.65,"s":"d"},{"t":29.93,"y":2.31,"s":"d"},{"t":31.36,"y":1.65,"s":"d"},{"t":32.78,"y":2.31,"s":"d"},{"t":34.21,"y":1.65,"s":"d"},
  {"t":1,"y":3.16,"s":"c"},{"t":1.43,"y":3.31,"s":"c"},{"t":2.86,"y":2.65,"s":"c"},{"t":4.28,"y":3.31,"s":"c"},{"t":5.71,"y":2.65,"s":"c"},{"t":7.13,"y":3.31,"s":"c"},{"t":8.56,"y":2.65,"s":"c"},{"t":9.98,"y":3.31,"s":"c"},{"t":11.41,"y":2.65,"s":"c"},{"t":12.83,"y":3.31,"s":"c"},{"t":14.26,"y":2.65,"s":"c"},{"t":15.68,"y":3.31,"s":"c"},{"t":17.11,"y":2.65,"s":"c"},{"t":18.53,"y":3.31,"s":"c"},{"t":19.96,"y":2.65,"s":"c"},{"t":21.38,"y":3.31,"s":"c"},{"t":22.81,"y":2.65,"s":"c"},{"t":24.23,"y":3.31,"s":"c"},{"t":25.66,"y":2.65,"s":"c"},{"t":27.08,"y":3.31,"s":"c"},{"t":28.51,"y":2.65,"s":"c"},{"t":29.93,"y":3.31,"s":"c"},{"t":31.36,"y":2.65,"s":"c"},{"t":32.78,"y":3.31,"s":"c"},{"t":34.21,"y":2.65,"s":"c"},
  {"t":1,"y":4.16,"s":"g"},{"t":1.43,"y":4.31,"s":"g"},{"t":2.86,"y":3.65,"s":"g"},{"t":4.28,"y":4.31,"s":"g"},{"t":5.71,"y":3.65,"s":"g"},{"t":7.13,"y":4.31,"s":"g"},{"t":8.56,"y":3.65,"s":"g"},{"t":9.98,"y":4.31,"s":"g"},{"t":11.41,"y":3.65,"s":"g"},{"t":12.83,"y":4.31,"s":"g"},{"t":14.26,"y":3.65,"s":"g"},{"t":15.68,"y":4.31,"s":"g"},{"t":17.11,"y":3.65,"s":"g"},{"t":18.53,"y":4.31,"s":"g"},{"t":19.96,"y":3.65,"s":"g"},{"t":21.38,"y":4.31,"s":"g"},{"t":22.81,"y":3.65,"s":"g"},{"t":24.23,"y":4.31,"s":"g"},{"t":25.66,"y":3.65,"s":"g"},{"t":27.08,"y":4.31,"s":"g"},{"t":28.51,"y":3.65,"s":"g"},{"t":29.93,"y":4.31,"s":"g"},{"t":31.36,"y":3.65,"s":"g"},{"t":32.78,"y":4.31,"s":"g"},{"t":34.21,"y":3.65,"s":"g"}
 ],
 "cBotA":[
  {"t":32.78,"y":0.65,"y2":1.31,"s":"s"},{"t":300,"y":0.65,"y2":1.31,"s":"s"},{"t":400,"y":0.68,"y2":1.28,"s":"s"},{"t":550,"y":0.72,"y2":1.24,"s":"s"},{"t":760,"y":0.76,"y2":1.2,"s":"s"},{"t":1000,"y":0.79,"y2":1.17,"s":"s"},{"t":1150,"y":0.81,"y2":1.15,"s":"s"},{"t":1380,"y":0.92,"y2":1.04,"s":"s"},{"t":1600,"y":0.83,"y2":1.13,"s":"s"},{"t":1900,"y":0.92,"y2":1.04,"s":"s"},{"t":2150,"y":0.88,"y2":1.08,"s":"s"},{"t":2450,"y":0.93,"y2":1.03,"s":"s"},{"t":2700,"y":0.9,"y2":1.06,"s":"s"},{"t":3000,"y":0.93,"y2":1.03,"s":"s"},{"t":3500,"y":0.92,"y2":1.04,"s":"s"},{"t":4500,"y":0.905,"y2":1.055,"s":"s"},{"t":5000,"y":0.93,"y2":1.03,"s":"s"},{"t":6000,"y":0.9,"y2":1.06,"s":"s"},{"t":7000,"y":0.92,"y2":1.04,"s":"s"},{"t":8000,"y":0.9,"y2":1.06,"s":"s"},{"t":10000,"y":0.91,"y2":1.05,"s":"s"},
  {"t":32.78,"y":1.65,"y2":2.31,"s":"d"},{"t":600,"y":1.65,"y2":2.31,"s":"d"},{"t":760,"y":1.71,"y2":2.25,"s":"d"},{"t":1000,"y":1.73,"y2":2.23,"s":"d"},{"t":1016,"y":1.73,"y2":2.23,"s":"d"},{"t":1060,"y":1.94,"y2":2.02,"s":"d"},{"t":1230,"y":1.77,"y2":2.19,"s":"d"},{"t":1400,"y":1.9,"y2":2.06,"s":"d"},{"t":1580,"y":1.81,"y2":2.15,"s":"d"},{"t":1760,"y":1.905,"y2":2.055,"s":"d"},{"t":1950,"y":1.84,"y2":2.12,"s":"d"},{"t":2130,"y":1.91,"y2":2.05,"s":"d"},{"t":2320,"y":1.86,"y2":2.1,"s":"d"},{"t":2510,"y":1.91,"y2":2.05,"s":"d"},{"t":2700,"y":1.87,"y2":2.09,"s":"d"},{"t":2890,"y":1.91,"y2":2.05,"s":"d"},{"t":3080,"y":1.88,"y2":2.08,"s":"d"},{"t":3270,"y":1.91,"y2":2.05,"s":"d"},{"t":4000,"y":1.895,"y2":2.065,"s":"d"},{"t":6000,"y":1.895,"y2":2.065,"s":"d"},{"t":10000,"y":1.91,"y2":2.05,"s":"d"},
  {"t":32.78,"y":2.65,"y2":3.31,"s":"c"},{"t":1016,"y":2.65,"y2":3.31,"s":"c"},{"t":1022,"y":2.89,"y2":3.07,"s":"c"},{"t":1204,"y":2.7,"y2":3.26,"s":"c"},{"t":1387,"y":2.895,"y2":3.065,"s":"c"},{"t":1568,"y":2.745,"y2":3.215,"s":"c"},{"t":1750,"y":2.895,"y2":3.065,"s":"c"},{"t":1934,"y":2.79,"y2":3.17,"s":"c"},{"t":2118,"y":2.9,"y2":3.06,"s":"c"},{"t":2309,"y":2.815,"y2":3.145,"s":"c"},{"t":2500,"y":2.9,"y2":3.06,"s":"c"},{"t":2690,"y":2.83,"y2":3.13,"s":"c"},{"t":2880,"y":2.9,"y2":3.06,"s":"c"},{"t":3071,"y":2.84,"y2":3.12,"s":"c"},{"t":3263,"y":2.895,"y2":3.065,"s":"c"},{"t":3630,"y":2.86,"y2":3.1,"s":"c"},{"t":4500,"y":2.86,"y2":3.1,"s":"c"},{"t":10000,"y":2.865,"y2":3.095,"s":"c"},
  {"t":32.78,"y":3.65,"y2":4.31,"s":"g"},{"t":1016,"y":3.65,"y2":4.31,"s":"g"},{"t":1022,"y":3.86,"y2":4.1,"s":"g"},{"t":1204,"y":3.68,"y2":4.28,"s":"g"},{"t":1387,"y":3.86,"y2":4.1,"s":"g"},{"t":1568,"y":3.71,"y2":4.25,"s":"g"},{"t":1750,"y":3.86,"y2":4.1,"s":"g"},{"t":1934,"y":3.735,"y2":4.225,"s":"g"},{"t":2118,"y":3.86,"y2":4.1,"s":"g"},{"t":2309,"y":3.755,"y2":4.205,"s":"g"},{"t":2500,"y":3.86,"y2":4.1,"s":"g"},{"t":2690,"y":3.77,"y2":4.19,"s":"g"},{"t":2880,"y":3.85,"y2":4.11,"s":"g"},{"t":3071,"y":3.78,"y2":4.18,"s":"g"},{"t":3263,"y":3.85,"y2":4.11,"s":"g"},{"t":3446,"y":3.785,"y2":4.175,"s":"g"},{"t":3630,"y":3.84,"y2":4.12,"s":"g"},{"t":3815,"y":3.79,"y2":4.17,"s":"g"},{"t":4000,"y":3.83,"y2":4.13,"s":"g"},{"t":4500,"y":3.8,"y2":4.16,"s":"g"},{"t":10000,"y":3.805,"y2":4.155,"s":"g"}
 ]
},
"resolve":{"scale":{"color":"independent","x":"independent","y":"independent"},"legend":{"color":"independent"}},
"hconcat":[
 {"vconcat":[
   {"width":356,"height":185,
    "encoding":{
     "x":{"field":"t","type":"quantitative","scale":{"type":"log","domain":[1,10000],"nice":false},"axis":null},
     "y":{"field":"y","type":"quantitative","scale":{"domain":[-0.037,1.055],"nice":false,"zero":false},"axis":{"title":"mz","values":[0,0.5,1],"labelExpr":"replace(format(datum.value,'.1f'),'-','−')","tickSize":5,"titlePadding":1}},
     "color":{"field":"s","type":"nominal","scale":{"domain":["7","12","9","14"],"range":["#87CEEB","#6495ED","#1E90FF","#808080"]},
       "legend":{"orient":"none","legendX":73,"legendY":18,"columns":2,"direction":"horizontal","title":null,"symbolType":"stroke","symbolSize":1369,"symbolStrokeWidth":2,"clipHeight":18,"labelFontSize":18,"labelOffset":15,"columnPadding":27,"rowPadding":7,"padding":0,"labelExpr":"datum.label=='7'?'N = 10⁷':datum.label=='9'?'N = 10⁹':datum.label=='12'?'N = 10¹²':'N = 10¹⁴'"}}
    },
    "layer":[
     {"data":{"name":"aTop"},"mark":{"type":"line","strokeWidth":3,"interpolate":"monotone","clip":true},"encoding":{"color":{"value":"#6495ED"}}},
     {"data":{"name":"aTop"},"mark":{"type":"line","strokeWidth":2,"opacity":0.8,"interpolate":"monotone","clip":true}}
    ]},
   {"width":356,"height":187,
    "encoding":{
     "x":{"field":"t","type":"quantitative","scale":{"type":"log","domain":[1,10000],"nice":false},"axis":{"title":"t","titlePadding":0,"values":[1,2,3,4,5,6,7,8,9,10,20,30,40,50,60,70,80,90,100,200,300,400,500,600,700,800,900,1000,2000,3000,4000,5000,6000,7000,8000,9000,10000],"labelExpr":"abs(log(datum.value)/LN10-round(log(datum.value)/LN10))<0.001?'10'+['⁻¹','⁰','¹','²','³','⁴'][round(log(datum.value)/LN10)+1]:''","tickSize":{"condition":{"test":"abs(log(datum.value)/LN10-round(log(datum.value)/LN10))<0.001","value":5},"value":2.5}}},
     "y":{"field":"y","type":"quantitative","scale":{"domain":[-0.051,1.049],"nice":false,"zero":false},"axis":{"title":"mz","values":[0,0.5,1],"labelExpr":"replace(format(datum.value,'.1f'),'-','−')","tickSize":5,"titlePadding":1}},
     "color":{"field":"s","type":"nominal","scale":{"domain":["7","9","12","14"],"range":["#87CEEB","#1E90FF","#6495ED","#808080"]},"legend":null}
    },
    "layer":[{"data":{"name":"aBot"},"mark":{"type":"line","strokeWidth":2,"interpolate":"monotone","clip":true}}]}
  ],
  "spacing":2,"bounds":"flush",
  "resolve":{"scale":{"color":"independent","x":"independent","y":"independent"},"legend":{"color":"independent"}},
  "title":{"text":"(a) Ising model","orient":"bottom","anchor":"middle","offset":17}
 },
 {"hconcat":[
   {"vconcat":[
     {"width":342,"height":6,"data":{"values":[]},"mark":"point","view":{"stroke":null}},
     {"width":342,"height":184,
      "encoding":{
       "x":{"field":"t","type":"quantitative","scale":{"type":"log","domain":[0.1,1000],"nice":false},"axis":null},
       "y":{"field":"y","type":"quantitative","scale":{"domain":[-0.505,1.025],"nice":false,"zero":false},"axis":{"title":"mz","values":[-0.5,0,0.5,1],"labelExpr":"replace(format(datum.value,'.1f'),'-','−')","tickSize":5,"titlePadding":5}},
       "color":{"field":"s","type":"nominal","scale":{"domain":["6","8","10","7","9"],"range":["#40E0D0","#1E90FF","#808080","#87CEEB","#6495ED"]},
         "legend":{"orient":"none","legendX":-2,"legendY":11,"columns":3,"direction":"horizontal","title":null,"symbolType":"stroke","symbolSize":1024,"symbolStrokeWidth":2,"clipHeight":16,"labelFontSize":16,"labelOffset":12,"columnPadding":24,"rowPadding":4,"padding":0,"labelExpr":"'N = 2'+(datum.label=='6'?'⁶':datum.label=='7'?'⁷':datum.label=='8'?'⁸':datum.label=='9'?'⁹':'¹⁰')"}}
      },
      "layer":[
       {"data":{"name":"bTopL"},"mark":{"type":"line","strokeWidth":3,"interpolate":"monotone","clip":true},"encoding":{"color":{"value":"#87CEEB"}}},
       {"data":{"name":"bTopA"},"mark":{"type":"area","clip":true},"encoding":{"y2":{"field":"y2"}}},
       {"data":{"name":"bTopL"},"mark":{"type":"line","strokeWidth":2,"opacity":0.85,"interpolate":"monotone","clip":true}}
      ]},
     {"width":342,"height":184,
      "encoding":{
       "x":{"field":"t","type":"quantitative","scale":{"type":"log","domain":[0.1,1000],"nice":false},"axis":{"title":"t","titlePadding":0,"values":[0.1,0.2,0.3,0.4,0.5,0.6,0.7,0.8,0.9,1,2,3,4,5,6,7,8,9,10,20,30,40,50,60,70,80,90,100,200,300,400,500,600,700,800,900,1000],"labelExpr":"abs(log(datum.value)/LN10-round(log(datum.value)/LN10))<0.001?'10'+['⁻¹','⁰','¹','²','³','⁴'][round(log(datum.value)/LN10)+1]:''","tickSize":{"condition":{"test":"abs(log(datum.value)/LN10-round(log(datum.value)/LN10))<0.001","value":5},"value":2.5}}},
       "y":{"field":"y","type":"quantitative","scale":{"domain":[0.7,1.0],"nice":false,"zero":false},"axis":{"title":"mz","values":[0.75,0.85,0.95],"format":".2f","tickSize":5,"titlePadding":5}},
       "color":{"field":"s","type":"nominal","scale":{"domain":["6","7","8","9","10"],"range":["#40E0D0","#87CEEB","#1E90FF","#6495ED","#808080"]},"legend":null}
      },
      "layer":[
       {"data":{"name":"bBotL"},"mark":{"type":"line","strokeWidth":2,"interpolate":"monotone","clip":true}},
       {"data":{"name":"bBotA"},"mark":{"type":"area","clip":true},"encoding":{"y2":{"field":"y2"}}}
      ]}
    ],
    "spacing":0,"bounds":"flush",
    "resolve":{"scale":{"color":"independent","x":"independent","y":"independent"},"legend":{"color":"independent"}},
    "title":{"text":"(b) Kitaev chain","orient":"bottom","anchor":"middle","offset":17}
   },
   {"vconcat":[
     {"width":370,"height":185,
      "encoding":{
       "x":{"field":"t","type":"quantitative","scale":{"type":"log","domain":[1,10000],"nice":false},"axis":null},
       "y":{"field":"y","type":"quantitative","scale":{"domain":[0.52,4.94],"nice":false,"zero":false},"axis":{"title":"U","values":[2,4],"format":"d","tickSize":5,"titlePadding":5}},
       "color":{"field":"s","type":"nominal","scale":{"domain":["s","d","c","g"],"range":["#87CEEB","#1E90FF","#6495ED","#808080"]},"legend":null}
      },
      "layer":[
       {"data":{"name":"cTopL"},"mark":{"type":"line","strokeWidth":2,"interpolate":"monotone","clip":true}},
       {"data":{"name":"cTopA"},"mark":{"type":"area","clip":true},"encoding":{"y2":{"field":"y2"}}}
      ]},
     {"width":370,"height":187,
      "encoding":{
       "x":{"field":"t","type":"quantitative","scale":{"type":"log","domain":[1,10000],"nice":false},"axis":{"title":"t","titlePadding":0,"values":[1,2,3,4,5,6,7,8,9,10,20,30,40,50,60,70,80,90,100,200,300,400,500,600,700,800,900,1000,2000,3000,4000,5000,6000,7000,8000,9000,10000],"labelExpr":"abs(log(datum.value)/LN10-round(log(datum.value)/LN10))<0.001?'10'+['⁻¹','⁰','¹','²','³','⁴'][round(log(datum.value)/LN10)+1]:''","tickSize":{"condition":{"test":"abs(log(datum.value)/LN10-round(log(datum.value)/LN10))<0.001","value":5},"value":2.5}}},
       "y":{"field":"y","type":"quantitative","scale":{"domain":[0.478,4.487],"nice":false,"zero":false},"axis":{"title":"U","values":[2,4],"format":"d","tickSize":5,"titlePadding":5}},
       "color":{"field":"s","type":"nominal","scale":{"domain":["s","d","c","g"],"range":["#87CEEB","#1E90FF","#6495ED","#808080"]},"legend":null}
      },
      "layer":[
       {"data":{"name":"cBotL"},"mark":{"type":"line","strokeWidth":2,"interpolate":"monotone","clip":true}},
       {"data":{"name":"cBotA"},"mark":{"type":"area","interpolate":"monotone","clip":true},"encoding":{"y2":{"field":"y2"}}}
      ]}
    ],
    "spacing":2,"bounds":"flush",
    "resolve":{"scale":{"color":"independent","x":"independent","y":"independent"},"legend":{"color":"independent"}},
    "title":{"text":"(c) Spherical model","orient":"bottom","anchor":"middle","offset":17}
   }
  ],
  "spacing":11,
  "resolve":{"scale":{"color":"independent","x":"independent","y":"independent"},"legend":{"color":"independent"}}
 }
]
}
